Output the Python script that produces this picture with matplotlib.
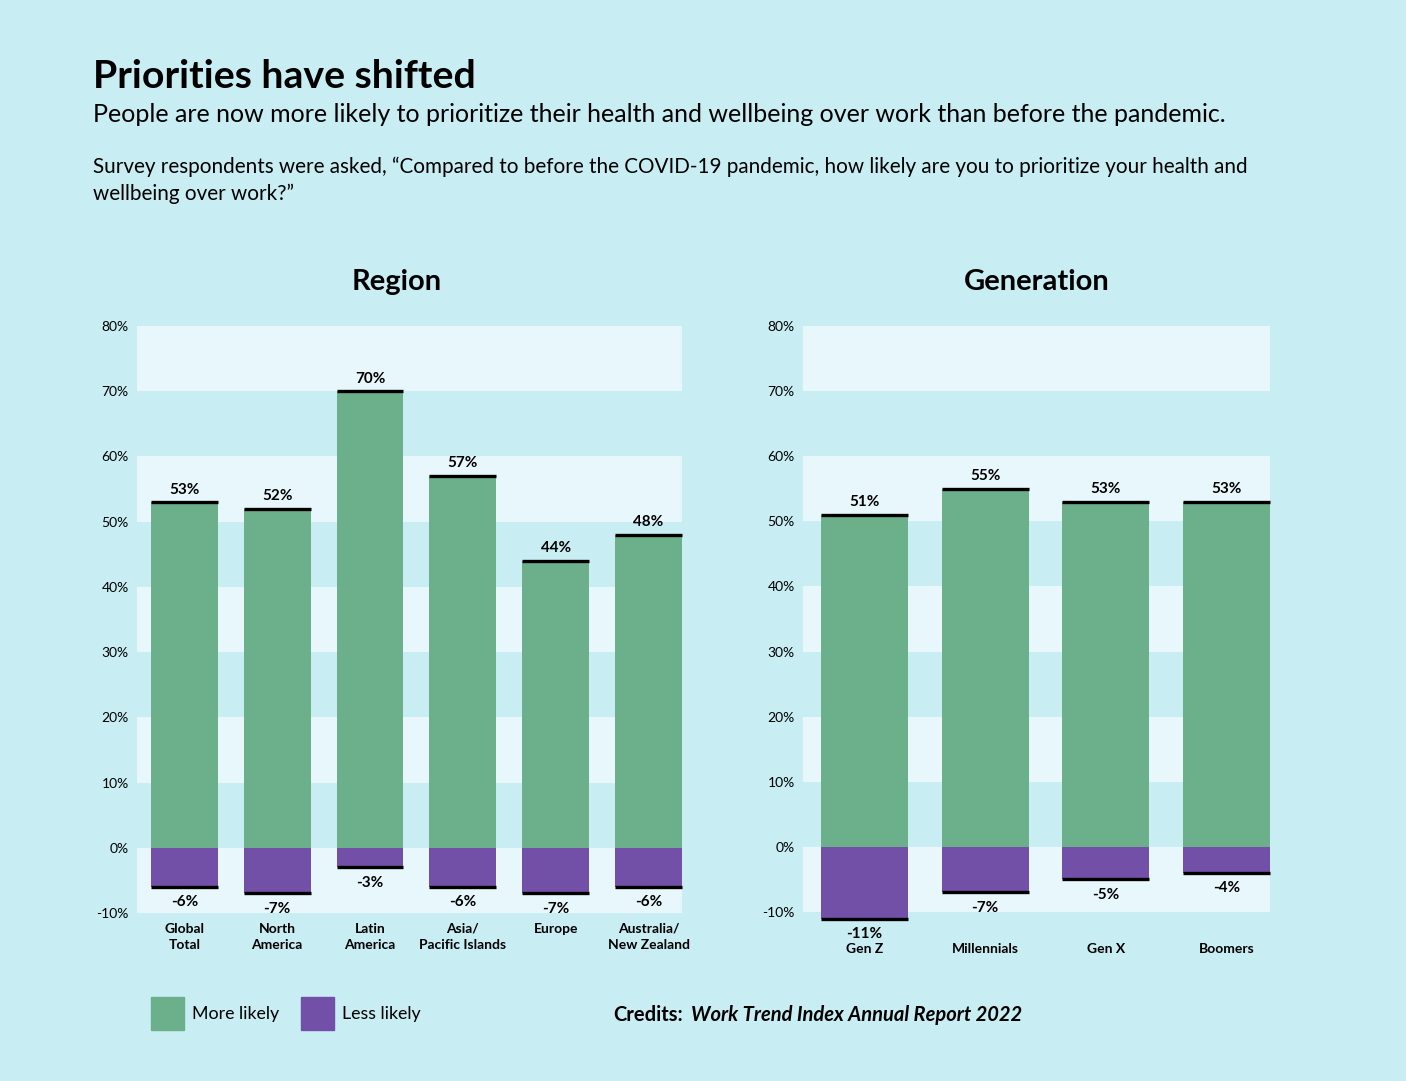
import matplotlib.pyplot as plt
from matplotlib.patches import Rectangle

plt.rcParams["font.family"] = ["Lato", "DejaVu Sans"]

region_labels = ["Global\nTotal", "North\nAmerica", "Latin\nAmerica", "Asia/\nPacific Islands", "Europe", "Australia/\nNew Zealand"]
region_more = [53, 52, 70, 57, 44, 48]
region_less = [-6, -7, -3, -6, -7, -6]

gen_labels = ["Gen Z", "Millennials", "Gen X", "Boomers"]
gen_more = [51, 55, 53, 53]
gen_less = [-11, -7, -5, -4]

y_ticks = list(range(-10, 81, 10))

BG = "#C8EDF3"
BAND = "#E8F7FB"
GREEN = "#6BB08A"
PURPLE = "#7350A8"

W, H = 1406, 1081
fig = plt.figure(figsize=(W / 100, H / 100), dpi=100, facecolor=BG)


def px_axes(x0, y0, x1, y1):
    # pixel box (top-left origin) -> figure axes
    return fig.add_axes([x0 / W, 1 - y1 / H, (x1 - x0) / W, (y1 - y0) / H])


def draw_panel(ax, labels, more, less, title, cx, xpad):
    n = len(labels)
    width = 0.72
    ax.set_facecolor(BG)
    ax.set_xlim(-0.51, n - 1 + 0.36)
    ax.set_ylim(-10, 80)
    # alternating bands
    for lo in range(-10, 80, 10):
        if (lo // 10) % 2 == 1:
            ax.axhspan(lo, lo + 10, color=BAND, zorder=0, lw=0)
    xs = list(range(n))
    ax.bar(xs, more, width=width, color=GREEN, zorder=2, lw=0, clip_on=False)
    ax.bar(xs, less, width=width, color=PURPLE, zorder=2, lw=0, clip_on=False)
    for x, m, l in zip(xs, more, less):
        ax.hlines([m, l], x - width / 2, x + width / 2, colors="black", lw=2.4,
                  zorder=3, clip_on=False)
        ax.annotate(f"{m}%", (x, m), xytext=(0, 4), textcoords="offset points",
                    ha="center", va="bottom", fontsize=11, fontweight="bold",
                    annotation_clip=False)
        ax.annotate(f"{l}%", (x, l), xytext=(0, -6), textcoords="offset points",
                    ha="center", va="top", fontsize=11, fontweight="bold",
                    annotation_clip=False)
    ax.set_yticks(y_ticks)
    ax.set_yticklabels([f"{t}%" for t in y_ticks], fontsize=10)
    ax.tick_params(axis="y", length=0, pad=6)
    ax.set_xticks(xs)
    ax.set_xticklabels(labels, fontsize=10, fontweight="bold", linespacing=1.45)
    ax.tick_params(axis="x", length=0, pad=xpad)
    for s in ax.spines.values():
        s.set_visible(False)
    fig.text(cx / W, 1 - 282 / H, title, ha="center", va="center",
             fontsize=21, fontweight="bold")


ax1 = px_axes(137, 326, 682, 913)
draw_panel(ax1, region_labels, region_more, region_less, "Region", 397, 7)
ax2 = px_axes(803, 326, 1270, 912)
draw_panel(ax2, gen_labels, gen_more, gen_less, "Generation", 1037, 22)

fig.text(93 / W, 1 - 76 / H, "Priorities have shifted", fontsize=28.3, fontweight="bold", va="center")
fig.text(93 / W, 1 - 115 / H,
         "People are now more likely to prioritize their health and wellbeing over work than before the pandemic.",
         fontsize=18, va="center")
fig.text(93 / W, 1 - 180 / H,
         "Survey respondents were asked, \u201cCompared to before the COVID-19 pandemic, how likely are you to prioritize your health and\nwellbeing over work?\u201d",
         fontsize=14.9, va="center", linespacing=1.4)

# legend
for x0, color, label in [(151, GREEN, "More likely"), (301, PURPLE, "Less likely")]:
    fig.patches.append(Rectangle((x0 / W, 1 - 1030 / H), 33 / W, 33 / H,
                                 transform=fig.transFigure, color=color))
    fig.text((x0 + 41) / W, 1 - 1014 / H, label, fontsize=12.8, va="center")

fig.text(613 / W, 1 - 1015 / H, "Credits:", fontsize=14.5, fontweight="bold", va="center")
fig.text(691 / W, 1 - 1015 / H, "Work Trend Index Annual Report 2022", fontsize=14.5,
         fontweight="bold", style="italic", va="center")

fig.savefig("out.png", dpi=100, facecolor=BG)
